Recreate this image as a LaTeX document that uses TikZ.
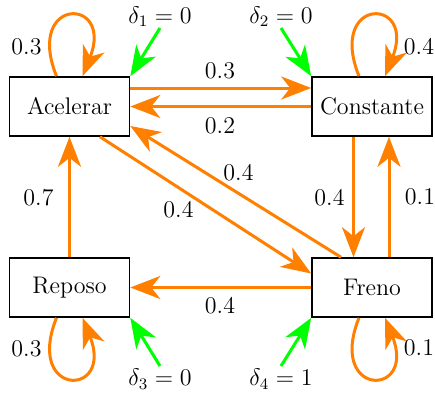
\documentclass[tikz,border=0pt]{standalone}
\usetikzlibrary{arrows.meta,calc}
\begin{document}
\begin{tikzpicture}[x=0.5pt,y=-0.5pt,
  state/.style={draw, line width=0.8pt, minimum width=60pt, minimum height=29.5pt, inner sep=0pt, font=\large},
  tip/.style={-{Stealth[length=15pt,width=11.5pt,inset=4.5pt]}},
  tr/.style={draw=orange, line width=1.5pt, tip},
  ini/.style={draw=green, line width=1.5pt, tip},
  lbl/.style={font=\large, inner sep=0pt}]
\useasboundingbox (0,0) rectangle (435,396);

\node[state] (A) at (69.5,106.5) {Acelerar};
\node[state] (C) at (372,106.5) {Constante};
\node[state] (R) at (69.5,287.5) {Reposo};
\node[state] (F) at (372,287.5) {Freno};

% transitions
\draw[tr] ($(A.east)+(0,-18.5)$) -- ($(C.west)+(0,-18.5)$);
\draw[tr] (C.west) -- (A.east);
\draw[tr] ($(A.south)+(30.5,0)$) -- ($(F.west)+(0,-14)$);
\draw[tr] ($(F.north)+(-31,0)$) -- ($(A.east)+(0,19.5)$);
\draw[tr] ($(C.south)+(-18.5,0)$) -- ($(F.north)+(-18.5,0)$);
\draw[tr] ($(F.north)+(17,0)$) -- ($(C.south)+(17,0)$);
\draw[tr] (R.north) -- (A.south);
\draw[tr] (F.west) -- (R.east);

% self loops
\draw[tr] ($(A.north)+(-13,0)$) .. controls ($(A.north)+(-45,-80)$) and ($(A.north)+(45,-80)$) .. ($(A.north)+(13,0)$);
\draw[tr] ($(C.north)+(-13,0)$) .. controls ($(C.north)+(-45,-80)$) and ($(C.north)+(45,-80)$) .. ($(C.north)+(13,0)$);
\draw[tr] ($(R.south)+(-13,0)$) .. controls ($(R.south)+(-45,80)$) and ($(R.south)+(45,80)$) .. ($(R.south)+(13,0)$);
\draw[tr] ($(F.south)+(-13,0)$) .. controls ($(F.south)+(-45,80)$) and ($(F.south)+(45,80)$) .. ($(F.south)+(13,0)$);

% transition labels
\node[lbl] (l1) at (220,70.5) {0.3};
\node[lbl] (l2) at (220,126) {0.2};
\node[lbl] (l3) at (238.5,173) {0.4};
\node[lbl] (l4) at (178.5,210) {0.4};
\node[lbl] (l5) at (38.5,198) {0.7};
\node[lbl] (l6) at (329.5,198) {0.4};
\node[lbl] (l7) at (420,197) {0.1};
\node[lbl] (l8) at (220,306) {0.4};
\node[lbl] (l9) at (26.5,46.5) {0.3};
\node[lbl] (l10) at (419,46.5) {0.4};
\node[lbl] (l11) at (26.5,349) {0.3};
\node[lbl] (l12) at (419,348) {0.1};

% initial distribution
\node[lbl] (d1) at (160,16.5) {$\delta_1=0$};
\node[lbl] (d2) at (281,16.5) {$\delta_2=0$};
\node[lbl] (d3) at (160,379) {$\delta_3=0$};
\node[lbl] (d4) at (281,379) {$\delta_4=1$};
\coordinate (g1) at (160,28);
\coordinate (g2) at (281,28);
\coordinate (g3) at (160,366);
\coordinate (g4) at (281,366);
\draw[ini] (g1) -- (A.north east);
\draw[ini] (g2) -- (C.north west);
\draw[ini] (g3) -- (R.south east);
\draw[ini] (g4) -- (F.south west);
\end{tikzpicture}
\end{document}
